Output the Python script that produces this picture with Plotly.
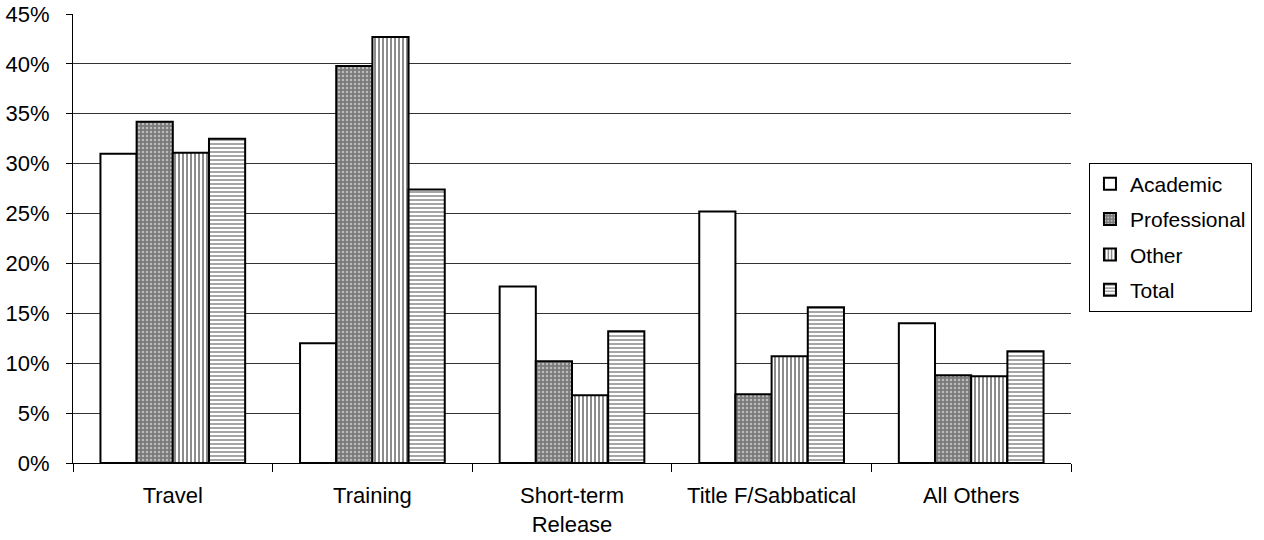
import plotly.graph_objects as go

categories = ["Travel", "Training", "Short-term<br>Release", "Title F/Sabbatical", "All Others"]
academic = [31.0, 12.0, 17.7, 25.2, 14.0]
professional = [34.2, 39.8, 10.2, 6.9, 8.8]
other = [31.1, 42.7, 6.8, 10.7, 8.7]
total = [32.5, 27.4, 13.2, 15.6, 11.2]
y_ticks = [0, 5, 10, 15, 20, 25, 30, 35, 40, 45]

series = [
    ("Academic", academic, dict(shape="", bgcolor="white")),
    ("Professional", professional, dict(shape=".", fgcolor="white", bgcolor="#7a7a7a", size=4, solidity=0.3)),
    ("Other", other, dict(shape="|", fgcolor="black", bgcolor="white", size=4, solidity=0.45)),
    ("Total", total, dict(shape="-", fgcolor="black", bgcolor="white", size=4, solidity=0.35)),
]

fig = go.Figure()
for name, vals, pat in series:
    fig.add_trace(go.Bar(
        x=categories, y=vals, name=name, legendgroup=name,
        marker=dict(color="white", line=dict(color="black", width=2), pattern=pat),
    ))

font = "Liberation Sans, Arial, sans-serif"
fig.update_layout(
    width=1264, height=540,
    margin=dict(l=73, r=189, t=14, b=77),
    barmode="group", bargap=0.275, bargroupgap=0,
    plot_bgcolor="white", paper_bgcolor="white",
    font=dict(family=font, size=22, color="black"),
    showlegend=True,
    legend=dict(x=1.018, y=0.503, xanchor="left", yanchor="middle",
                bordercolor="black", borderwidth=1, font=dict(size=21),
                tracegroupgap=5, itemwidth=30),
    xaxis=dict(showline=True, linecolor="black", linewidth=1, ticks="outside",
               tickson="boundaries", ticklen=8, tickcolor="black",
               tickfont=dict(size=22), ticklabelstandoff=13,
               showgrid=False, mirror=False, automargin=False),
    yaxis=dict(range=[0, 45], tickvals=y_ticks, ticktext=[f"{v}%" for v in y_ticks],
               tickfont=dict(size=22), ticklabelstandoff=12,
               showline=True, linecolor="black", linewidth=1, ticks="outside",
               ticklen=6, tickcolor="black", showgrid=True, gridcolor="#333333",
               gridwidth=1, zeroline=False, automargin=False),
)

fig.write_html("out.html")
